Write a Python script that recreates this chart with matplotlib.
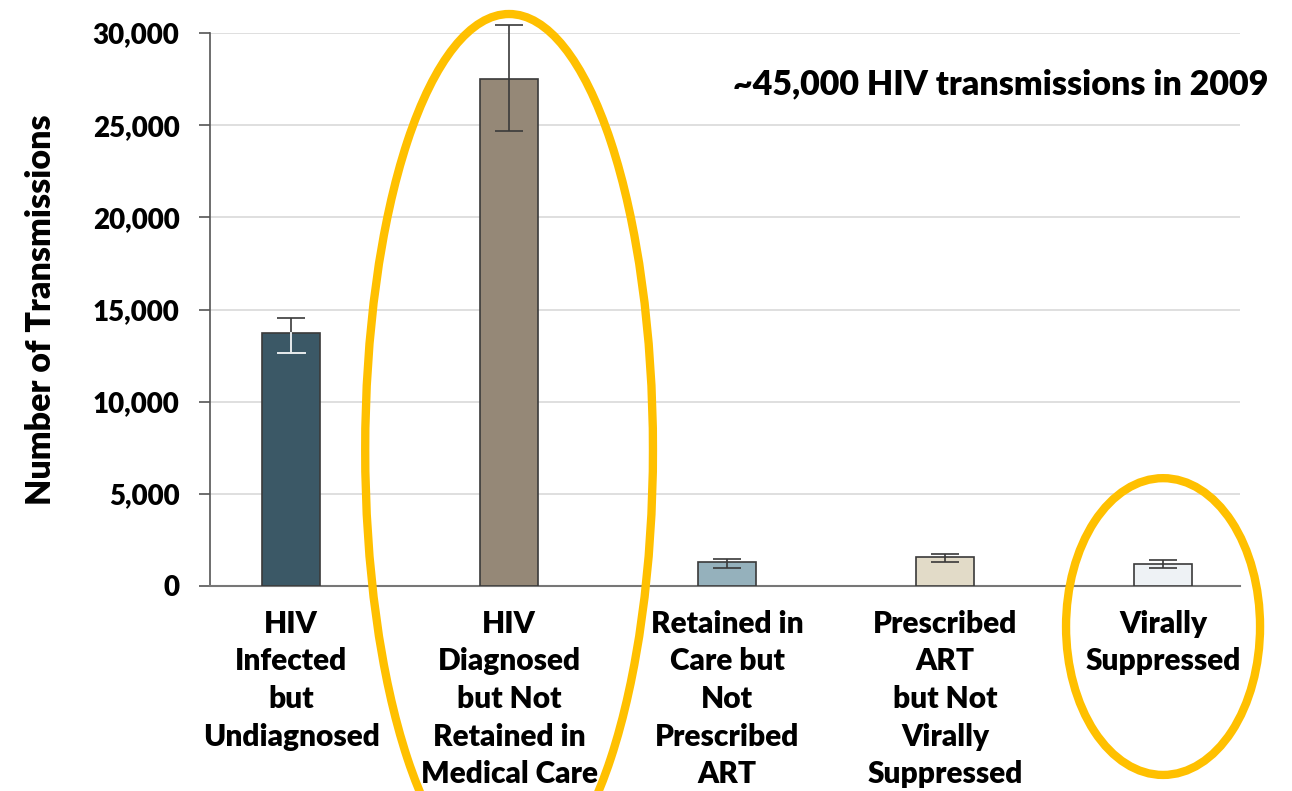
import matplotlib
matplotlib.use("Agg")
import matplotlib.pyplot as plt
from matplotlib.patches import Ellipse
import numpy as np

categories = ["HIV\nInfected\nbut\nUndiagnosed",
              "HIV\nDiagnosed\nbut Not\nRetained in\nMedical Care",
              "Retained in\nCare but\nNot\nPrescribed\nART",
              "Prescribed\nART\nbut Not\nVirally\nSuppressed",
              "Virally\nSuppressed"]
values = [13700, 27500, 1300, 1560, 1180]
err_low = [12640, 24700, 980, 1290, 980]
err_high = [14550, 30450, 1480, 1740, 1410]
colors = ["#3b5866", "#958877", "#95b1bc", "#e2dbc8", "#eef2f5"]
yticks = [0, 5000, 10000, 15000, 20000, 25000, 30000]
ytick_labels = ["0", "5,000", "10,000", "15,000", "20,000", "25,000", "30,000"]

plt.rcParams['font.family'] = ['Lato', 'DejaVu Sans']
plt.rcParams['font.weight'] = 'bold'

fig = plt.figure(figsize=(12.92, 7.91), dpi=100)
ax = fig.add_axes([210/1292, 1-586/791, (1240-210)/1292, (586-33)/791])

x = np.arange(len(categories))
ax.bar(x, values, width=0.266, color=colors, edgecolor="#3a3a3a", linewidth=1.2, zorder=3)
yerr = [np.array(values) - np.array(err_low), np.array(err_high) - np.array(values)]
ax.errorbar(x, values, yerr=yerr, fmt='none', ecolor="#3a3a3a", elinewidth=1.2,
            capsize=9.8, capthick=1.2, zorder=4, clip_on=False)
# light inner segment for the first bar's lower error line
ax.plot([x[0], x[0]], [err_low[0], values[0]], color="#e8ecee", lw=1.4, zorder=5)
ax.plot([x[0]-0.062, x[0]+0.062], [err_low[0], err_low[0]], color="#e8ecee", lw=1.4, zorder=5)

ax.set_xlim(-0.372, 4.353)
ax.set_ylim(0, 30000)
ax.set_yticks(yticks)
ax.set_yticklabels(ytick_labels, fontsize=20, fontweight='heavy')
ax.set_xticks(x)
ax.set_xticklabels(categories, fontsize=21.5, fontweight='heavy', linespacing=1.42)
ax.tick_params(axis='x', length=0, pad=17)
ax.tick_params(axis='y', length=8, width=1.2, color="#555555", pad=14)
ax.grid(axis='y', color="#d9d9d9", lw=1.2, zorder=0)
ax.set_axisbelow(True)
for s in ['top', 'right']:
    ax.spines[s].set_visible(False)
ax.spines['left'].set_color("#555555")
ax.spines['left'].set_linewidth(1.2)
ax.spines['bottom'].set_color("#777777")
ax.spines['bottom'].set_linewidth(1.5)

ax.set_ylabel("Number of Transmissions", fontsize=24.5, fontweight='heavy', labelpad=26)

ax.text(1001/1292, 1-84/791, "~45,000 HIV transmissions in 2009", transform=fig.transFigure,
        ha='center', va='center', fontsize=24.5, fontweight='heavy')

e1 = Ellipse((1.0, 7380), width=1.32, height=47300, fill=False, edgecolor="#FFC000",
             lw=6, clip_on=False, zorder=6)
e2 = Ellipse((4.0, -2200), width=0.89, height=16100, fill=False, edgecolor="#FFC000",
             lw=6, clip_on=False, zorder=6)
ax.add_patch(e1)
ax.add_patch(e2)

fig.savefig("out.png", dpi=100)
